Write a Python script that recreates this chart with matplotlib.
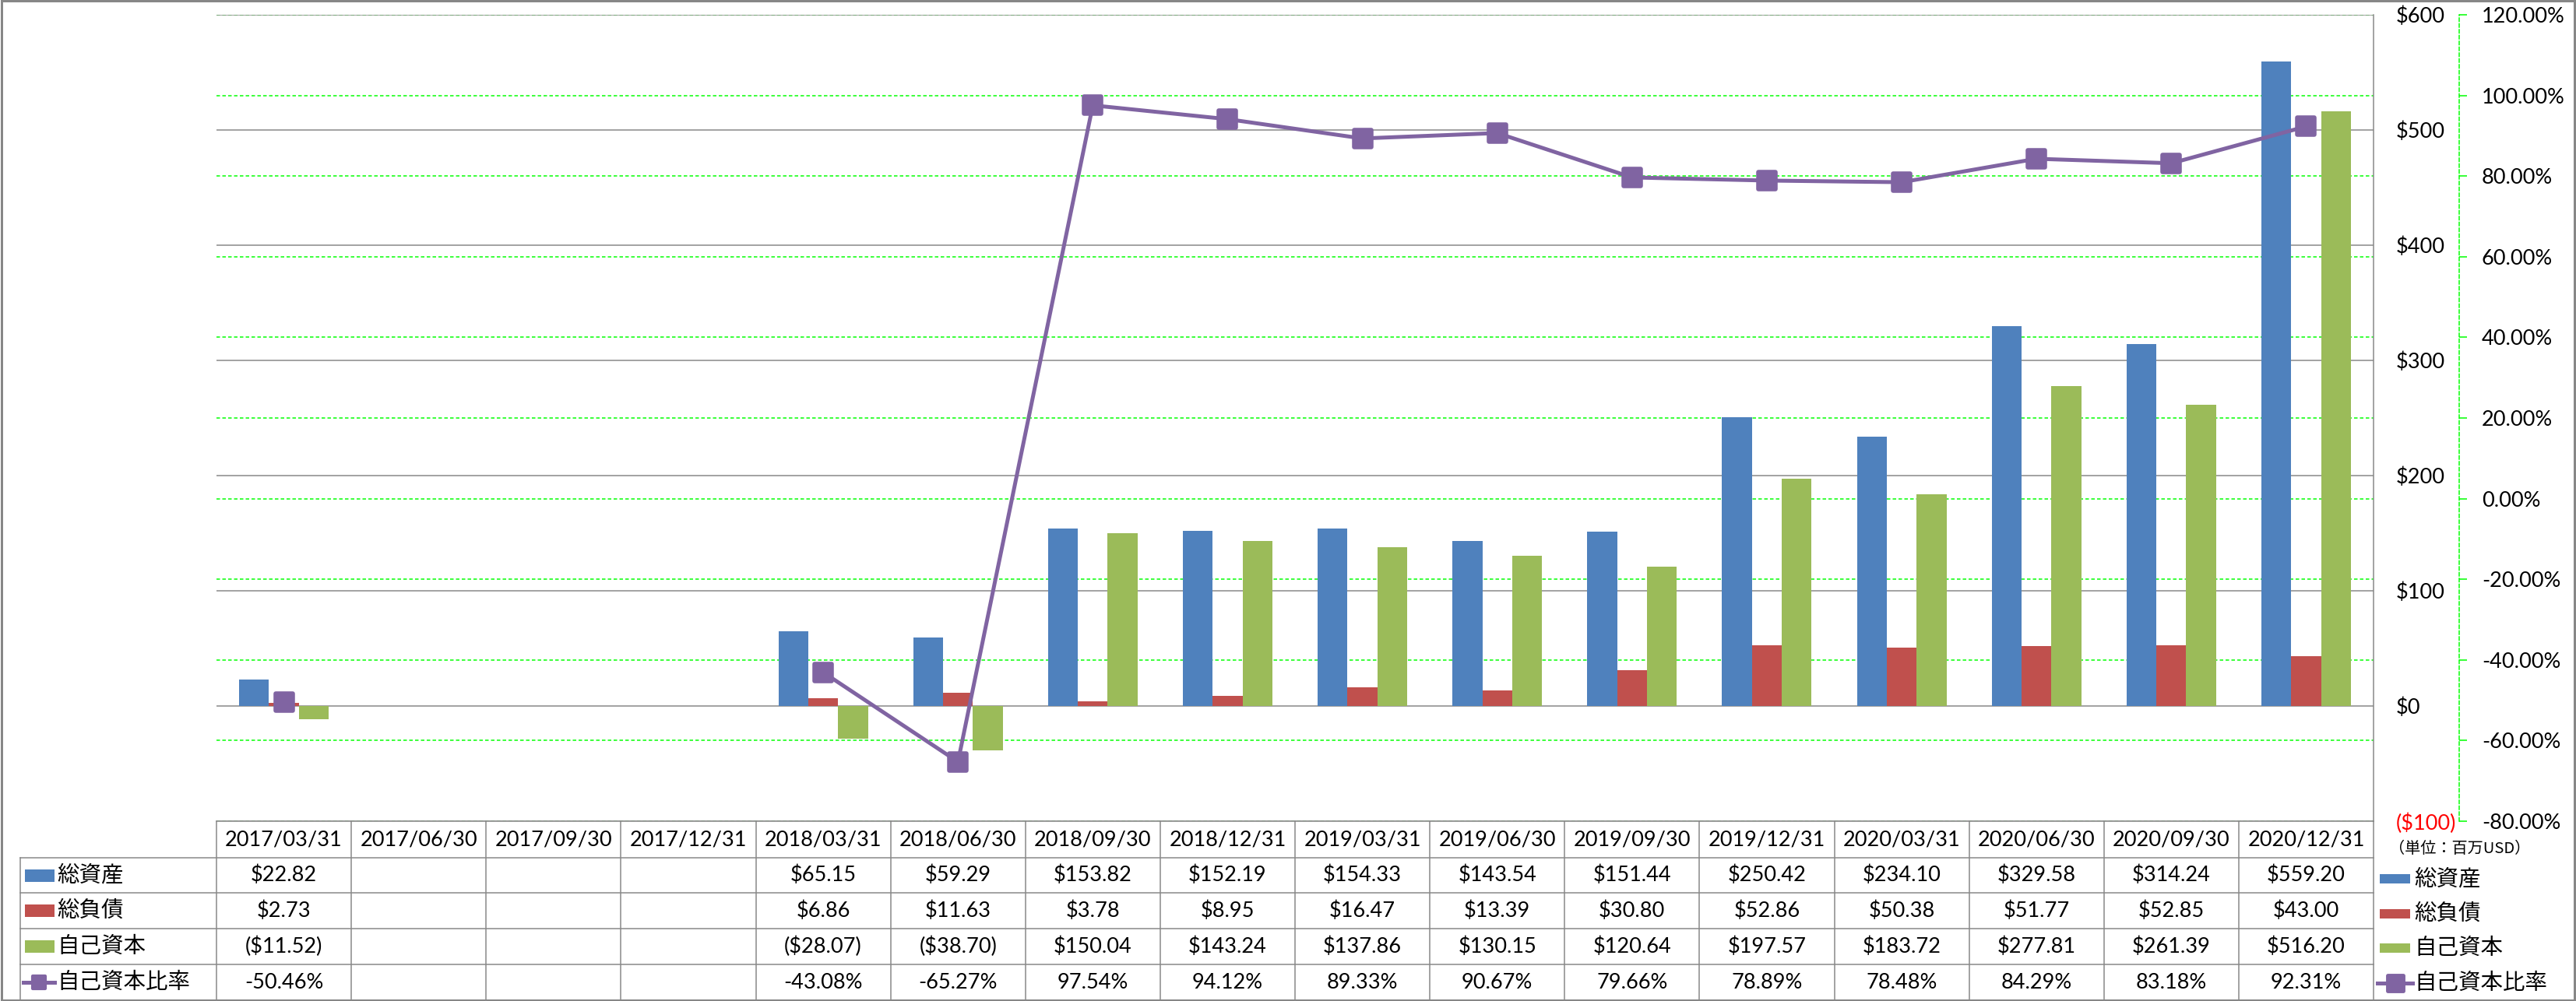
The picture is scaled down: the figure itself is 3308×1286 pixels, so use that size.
import numpy as np
import matplotlib
matplotlib.use("Agg")
import matplotlib.pyplot as plt
from matplotlib.lines import Line2D
from matplotlib.patches import Rectangle
from matplotlib.markers import MarkerStyle
import matplotlib.transforms as mtransforms

plt.rcParams['font.family'] = ['Lato', 'Noto Sans CJK JP', 'DejaVu Sans']

# ---------------- data ----------------
dates = ["2017/03/31", "2017/06/30", "2017/09/30", "2017/12/31",
         "2018/03/31", "2018/06/30", "2018/09/30", "2018/12/31",
         "2019/03/31", "2019/06/30", "2019/09/30", "2019/12/31",
         "2020/03/31", "2020/06/30", "2020/09/30", "2020/12/31"]
nan = np.nan
total_assets = [22.82, nan, nan, nan, 65.15, 59.29, 153.82, 152.19,
                154.33, 143.54, 151.44, 250.42, 234.10, 329.58, 314.24, 559.20]
total_liab = [2.73, nan, nan, nan, 6.86, 11.63, 3.78, 8.95,
              16.47, 13.39, 30.80, 52.86, 50.38, 51.77, 52.85, 43.00]
equity = [-11.52, nan, nan, nan, -28.07, -38.70, 150.04, 143.24,
          137.86, 130.15, 120.64, 197.57, 183.72, 277.81, 261.39, 516.20]
equity_ratio = [-50.46, nan, nan, nan, -43.08, -65.27, 97.54, 94.12,
                89.33, 90.67, 79.66, 78.89, 78.48, 84.29, 83.18, 92.31]
series_names = ["総資産", "総負債", "自己資本", "自己資本比率"]
left_ticks = [-100, 0, 100, 200, 300, 400, 500, 600]
right_ticks = [-80, -60, -40, -20, 0, 20, 40, 60, 80, 100, 120]
unit_label = "（単位：百万USD）"

C_BLUE = "#4F81BD"
C_RED = "#C0504D"
C_GREEN = "#9BBB59"
C_PURPLE = "#8064A2"
C_GRID = "#878787"
C_LGREEN = "#00FF00"

W, H = 3308, 1286
fig = plt.figure(figsize=(W / 100, H / 100), dpi=100)
fig.patch.set_facecolor("white")

def fx(x):
    return x / W

def fy(y):
    return 1 - y / H

PX = 0.72  # points per pixel

L, R, T, B = 278, 3048, 19, 1055
ax = fig.add_axes([fx(L), fy(B), fx(R - L), (B - T) / H])
axg = ax.twinx()
axl = ax.twinx()
axg.set_zorder(0)
ax.set_zorder(1)
axl.set_zorder(2)
for a in (ax, axg, axl):
    a.patch.set_visible(False)

n = len(dates)
x = np.arange(n)
w = 0.2214

ax.bar(x - w, total_assets, w, color=C_BLUE, zorder=2)
ax.bar(x, total_liab, w, color=C_RED, zorder=2)
ax.bar(x + w, equity, w, color=C_GREEN, zorder=2)

ax.set_xlim(-0.5, n - 0.5)
ax.set_ylim(left_ticks[0], left_ticks[-1])
ax.set_yticks(left_ticks)

def money(v):
    return f"(${abs(v):,.0f})" if v < 0 else f"${v:,.0f}"

ax.set_yticklabels([money(v) for v in left_ticks])
ax.yaxis.tick_right()
ax.tick_params(axis='y', length=0, pad=29 * PX, labelsize=19.5)
for lab, v in zip(ax.get_yticklabels(), left_ticks):
    lab.set_color("red" if v < 0 else "black")
    lab.set_horizontalalignment("left")
ax.set_xticks([])
ax.grid(axis='y', color=C_GRID, lw=1.5 * PX, zorder=0)
ax.set_axisbelow(True)
for s in ("left", "top", "bottom"):
    ax.spines[s].set_visible(False)
ax.spines["right"].set_color(C_GRID)
ax.spines["right"].set_linewidth(1.5 * PX)

# secondary axis (percent) with green dashed grid
axg.set_ylim(right_ticks[0], right_ticks[-1])
axg.set_yticks(right_ticks)
axg.set_yticklabels([f"{v:.2f}%" for v in right_ticks])
for lab, v in zip(axg.get_yticklabels(), right_ticks):
    lab.set_color("red" if v < 0 else "black")
axg.tick_params(axis='y', direction='out', length=10 * PX, width=1.1,
                color=C_LGREEN, pad=19 * PX, labelsize=19.5)
axg.grid(axis='y', color=C_LGREEN, lw=1.5 * PX, ls=(0, (3, 2)))
for s in ("left", "top", "bottom"):
    axg.spines[s].set_visible(False)
axg.spines["right"].set_position(("outward", 110 * PX))
axg.spines["right"].set_color(C_LGREEN)
axg.spines["right"].set_linestyle((0, (3, 2)))
axg.spines["right"].set_linewidth(1.5 * PX)

# ratio line
mk = MarkerStyle('s', joinstyle='round')
axl.set_ylim(right_ticks[0], right_ticks[-1])
axl.plot(x, equity_ratio, color=C_PURPLE, lw=5 * PX, marker=mk,
         ms=15.5, mfc=C_PURPLE, mec=C_PURPLE, mew=4, zorder=3)
axl.set_yticks([])
for s in axl.spines.values():
    s.set_visible(False)

# ---------------- data table ----------------
blend = mtransforms.blended_transform_factory(ax.transData, fig.transFigure)
row_edges = [1055, 1102, 1147, 1193, 1239, 1285]
lw_t = 1.5 * PX

def hline(x0, x1, y):
    fig.add_artist(Line2D([fx(x0), fx(x1)], [fy(y), fy(y)], color=C_GRID, lw=lw_t))

def vline(xx, y0, y1):
    fig.add_artist(Line2D([fx(xx), fx(xx)], [fy(y0), fy(y1)], color=C_GRID, lw=lw_t))

hline(L, R, row_edges[0])
for y in row_edges[1:5]:
    hline(26, R, y)
vline(26, row_edges[1], row_edges[5])
for i in range(n + 1):
    fig.add_artist(Line2D([i - 0.5, i - 0.5], [fy(row_edges[0]), fy(row_edges[5])],
                          transform=blend, color=C_GRID, lw=lw_t))

def cell_money(v):
    if np.isnan(v):
        return ""
    return f"(${abs(v):,.2f})" if v < 0 else f"${v:,.2f}"

def cell_pct(v):
    if np.isnan(v):
        return ""
    return f"{v:.2f}%"

rows = [[cell_money(v) for v in total_assets],
        [cell_money(v) for v in total_liab],
        [cell_money(v) for v in equity],
        [cell_pct(v) for v in equity_ratio]]

yc_header = (row_edges[0] + row_edges[1]) / 2
for i, d in enumerate(dates):
    fig.text(i, fy(yc_header), d, transform=blend, ha='center', va='center',
             fontsize=19.5)
for r, vals in enumerate(rows):
    yc = (row_edges[r + 1] + row_edges[r + 2]) / 2
    for i, s in enumerate(vals):
        fig.text(i, fy(yc), s, transform=blend, ha='center', va='center',
                 fontsize=19.5)

# row labels with legend keys
key_colors = [C_BLUE, C_RED, C_GREEN]
for r in range(4):
    yc = (row_edges[r + 1] + row_edges[r + 2]) / 2
    if r < 3:
        fig.add_artist(Rectangle((fx(32), fy(yc + 8)), fx(38), 16 / H,
                                 facecolor=key_colors[r], edgecolor='none'))
    else:
        fig.add_artist(Line2D([fx(30), fx(70)], [fy(yc), fy(yc)], color=C_PURPLE,
                              lw=5 * PX, marker=mk, markevery=[0], ms=0))
        fig.add_artist(Line2D([fx(50)], [fy(yc)], color=C_PURPLE, marker=mk,
                              ms=12, mfc=C_PURPLE, mec=C_PURPLE, mew=3))
    fig.text(fx(73), fy(yc), series_names[r], ha='left', va='center',
             fontsize=20.5, family=['Noto Sans CJK JP'])

# right legend
fig.text(fx(3068), fy(1090), unit_label, ha='left', va='center', fontsize=14.5,
         family=['Noto Sans CJK JP'])
leg_y = [1129, 1174, 1218, 1263]
for r in range(4):
    yc = leg_y[r]
    if r < 3:
        fig.add_artist(Rectangle((fx(3056), fy(yc + 6)), fx(39), 12 / H,
                                 facecolor=key_colors[r], edgecolor='none'))
    else:
        fig.add_artist(Line2D([fx(3053), fx(3098)], [fy(yc), fy(yc)], color=C_PURPLE,
                              lw=5 * PX))
        fig.add_artist(Line2D([fx(3076)], [fy(yc)], color=C_PURPLE, marker=mk,
                              ms=14, mfc=C_PURPLE, mec=C_PURPLE, mew=3.5))
    fig.text(fx(3100), fy(yc), series_names[r], ha='left', va='center',
             fontsize=20.5, family=['Noto Sans CJK JP'])

# outer frame
fig.add_artist(Rectangle((0.0005, 0.001), 0.999, 0.998, transform=fig.transFigure,
                         fill=False, edgecolor=C_GRID, lw=3 * PX))

fig.savefig("out.png", dpi=100, facecolor="white")
